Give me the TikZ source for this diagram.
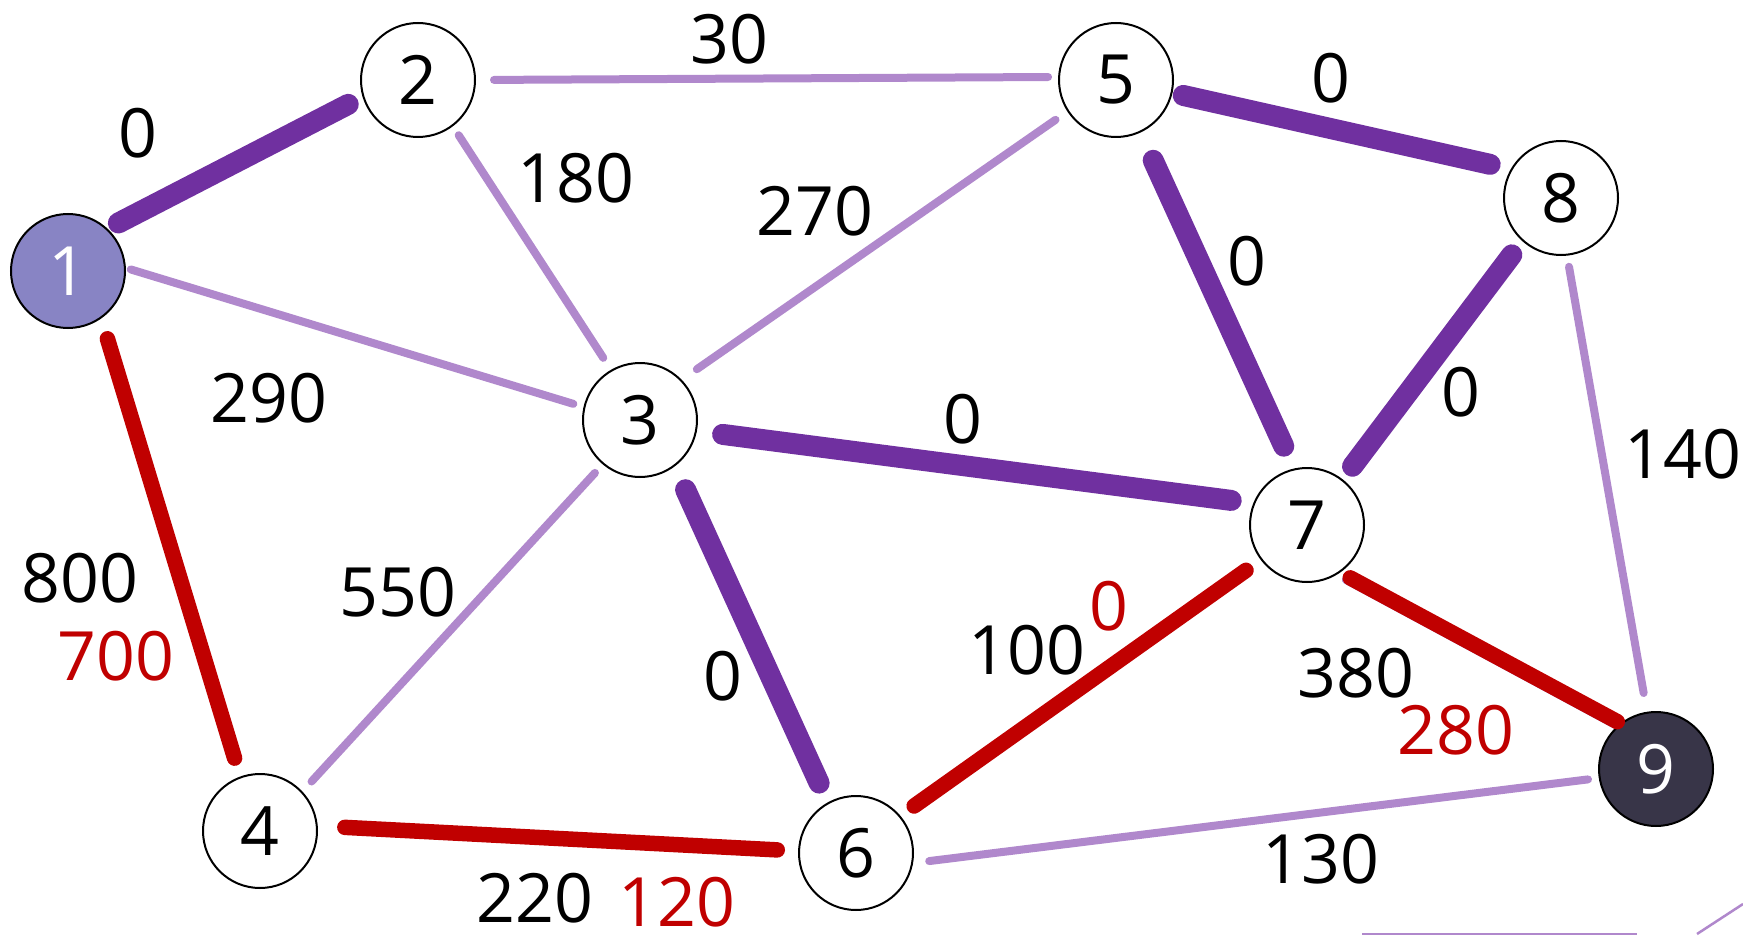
\documentclass[tikz,border=0pt]{standalone}
\usepackage{fontspec}
\setmainfont{Open Sans}
\definecolor{thickp}{HTML}{7030A0}
\definecolor{thinp}{HTML}{B088CC}
\definecolor{redc}{HTML}{C00000}
\definecolor{n1fill}{HTML}{8884C4}
\definecolor{n9fill}{HTML}{383548}
\begin{document}
\begin{tikzpicture}[x=1pt,y=-1pt,
  vert/.style={circle,draw=black,line width=2pt,minimum size=114pt,inner sep=0pt,fill=white,font=\fontsize{68}{80}\selectfont},
  lbl/.style={font=\fontsize{68}{80}\selectfont,inner sep=0pt},
  rlbl/.style={lbl,text=redc},
  heavy/.style={line width=21pt,color=thickp,line cap=round},
  light/.style={line width=8pt,color=thinp,line cap=round},
  redline/.style={line width=15.5pt,color=redc,line cap=round}]
\useasboundingbox (0,0) rectangle (1743,936);
% nodes
\node[vert,fill=n1fill,text=white] (n1) at (68,271) {1};
\node[vert] (n2) at (418,80) {2};
\node[vert] (n3) at (640,420) {3};
\node[vert] (n4) at (260,831) {4};
\node[vert] (n5) at (1116,80) {5};
\node[vert] (n6) at (856,853) {6};
\node[vert] (n7) at (1307,525) {7};
\node[vert] (n8) at (1561,198) {8};
\node[vert,fill=n9fill,text=white] (n9) at (1656,769) {9};
% light edges
\draw[light,shorten <=5.1pt,shorten >=10.6pt] (n1.3.9) -- (n3.167.3);
\draw[light,shorten <=18pt,shorten >=10pt] (n2.0) -- (n5.177.3);
\draw[light,shorten <=10.6pt,shorten >=14.2pt] (n2.-53.3) -- (n3.120.4);
\draw[light,shorten <=18.4pt,shorten >=14.4pt] (n3.44.4) -- (n5.-147.7);
\draw[light,shorten <=11.5pt,shorten >=13.5pt] (n3.-130.6) -- (n4.43.8);
\draw[light,shorten <=11.3pt,shorten >=19pt] (n8.-84.6) -- (n9.99.6);
\draw[light,shorten <=16.2pt,shorten >=10.8pt] (n6.-10.8) -- (n9.-171);
\draw[light,shorten <=8pt,shorten >=4pt,transform canvas={xshift=-1.5pt,yshift=-3.5pt}] (n7.-55.8) -- (n9.128.8);
% heavy edges
\draw[heavy,shorten <=12.2pt,shorten >=16.1pt] (n1.47.1) -- (n2.-163.3);
\draw[heavy,shorten <=25.9pt,shorten >=22.2pt] (n3.-11.2) -- (n7.158.7);
\draw[heavy,shorten <=25.7pt,shorten >=21.1pt] (n3.-53.4) -- (n6.119.2);
\draw[heavy,shorten <=11pt,shorten >=21.1pt] (n5.-13.1) -- (n8.150.8);
\draw[heavy,shorten <=30.5pt,shorten >=24.5pt] (n5.-65.4) -- (n7.103.8);
\draw[heavy,shorten <=17.2pt,shorten >=16.3pt] (n8.-132.5) -- (n7.52.8);
% red edges
\draw[redline,shorten <=21.2pt,shorten >=19.2pt] (n1.-55.4) -- (n4.110.6);
\draw[redline,shorten <=27.1pt,shorten >=20.8pt] (n4.5.3) -- (n6.178.4);
\draw[redline,shorten <=16.8pt,shorten >=18pt] (n6.40.7) -- (n7.-143.5);
\draw[redline,shorten <=11.3pt,shorten >=3.4pt] (n7.-55.8) -- (n9.128.8);
% labels
\node[lbl] (l12) at (138,133) {0};
\node[lbl] (l25) at (729,39) {30};
\node[lbl] (l23) at (576,178) {180};
\node[lbl] (l35) at (815,211) {270};
\node[lbl] (l58) at (1331,78) {0};
\node[lbl] (l57) at (1247,261) {0};
\node[lbl] (l87) at (1461,392) {0};
\node[lbl] (l89) at (1683,454) {140};
\node[lbl] (l13) at (269,398) {290};
\node[lbl] (l37) at (963,419) {0};
\node[lbl] (l14) at (80,578) {800};
\node[rlbl] (l14r) at (116,656) {700};
\node[lbl] (l34) at (398,592) {550};
\node[lbl] (l36) at (723,676) {0};
\node[lbl] (l67) at (1027,650) {100};
\node[rlbl] (l67r) at (1109,606) {0};
\node[lbl] (l79) at (1356,673) {380};
\node[rlbl] (l79r) at (1456,730) {280};
\node[lbl] (l69) at (1321,859) {130};
\node[lbl] (l46) at (535,898) {220};
\node[rlbl] (l46r) at (677,902) {120};
% fragments at bottom edge
\draw[color=thinp,line width=2.5pt] (1362,934) -- (1637,934);
\draw[color=thinp,line width=2.5pt] (1697,934) -- (1743,904);
\end{tikzpicture}
\end{document}
